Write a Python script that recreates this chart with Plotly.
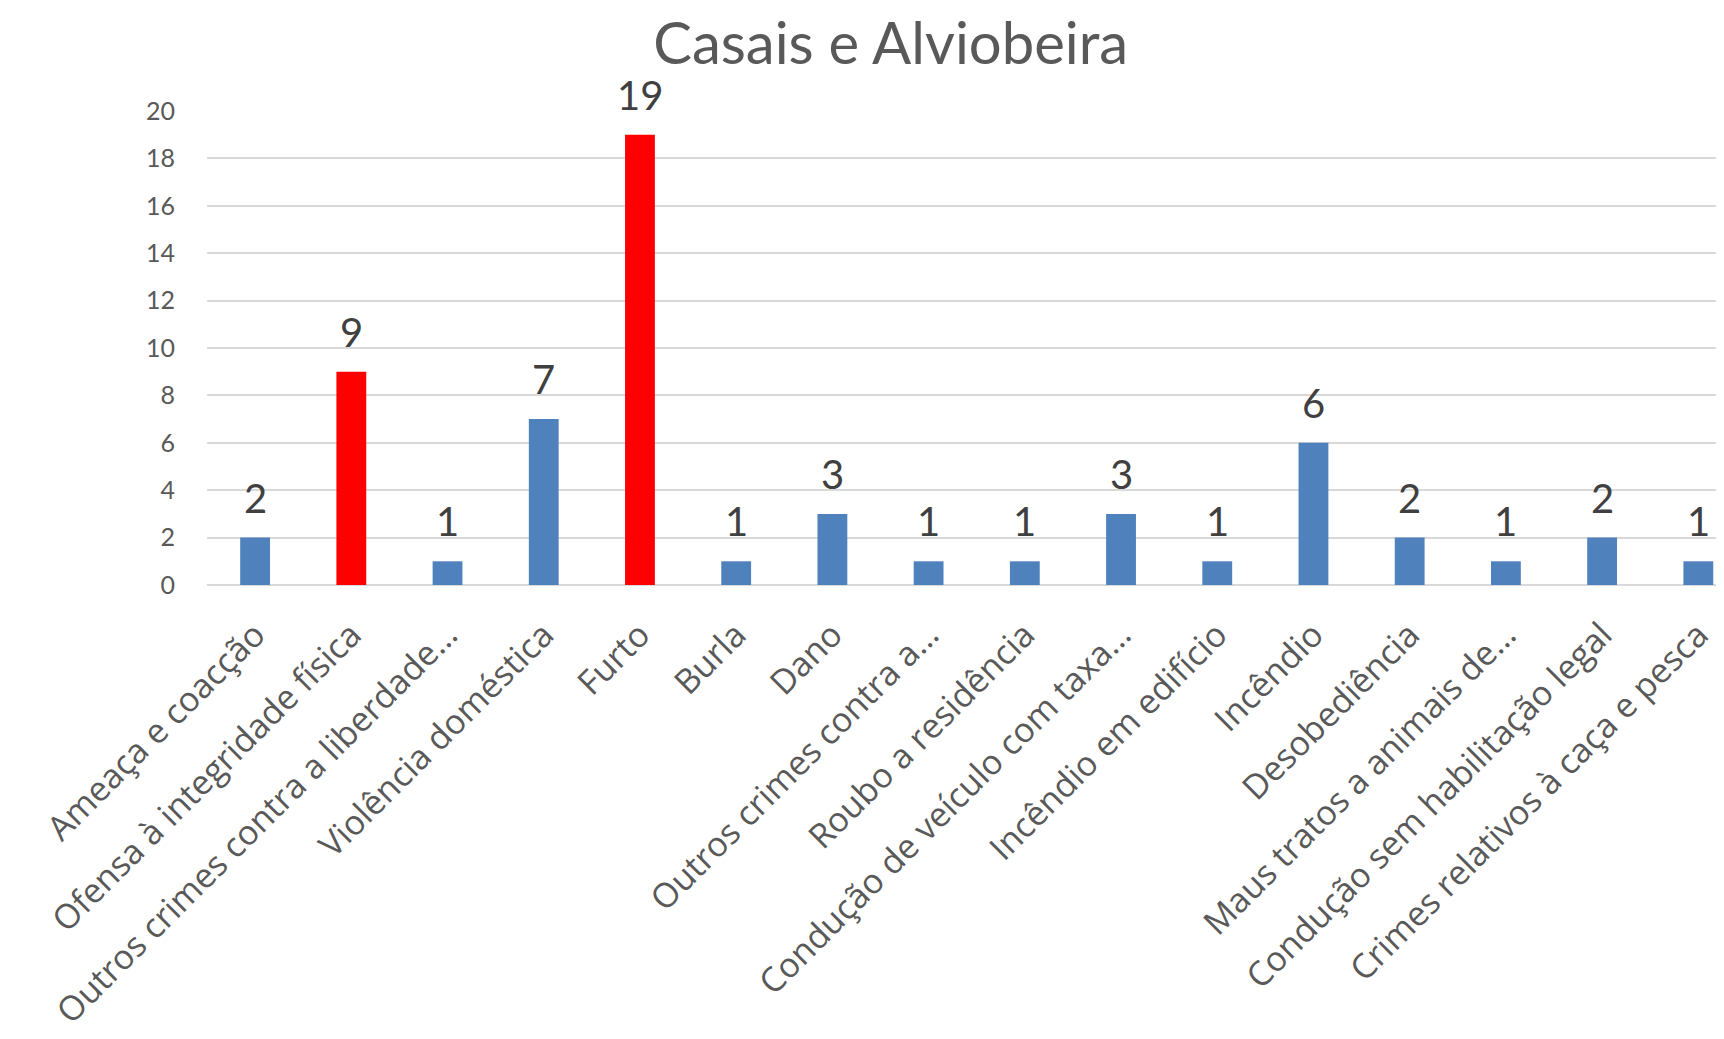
import plotly.graph_objects as go

categories = [
    "Ameaça e coacção",
    "Ofensa à integridade física",
    "Outros crimes contra a liberdade…",
    "Violência doméstica",
    "Furto",
    "Burla",
    "Dano",
    "Outros crimes contra a…",
    "Roubo a residência",
    "Condução de veículo com taxa…",
    "Incêndio em edifício",
    "Incêndio",
    "Desobediência",
    "Maus tratos a animais de…",
    "Condução sem habilitação legal",
    "Crimes relativos à caça e pesca",
]
values = [2, 9, 1, 7, 19, 1, 3, 1, 1, 3, 1, 6, 2, 1, 2, 1]
highlight = ["Ofensa à integridade física", "Furto"]

bar_colors = ["#ff0000" if c in highlight else "#4f81bd" for c in categories]
xpos = list(range(len(categories)))

FONT = "Lato"
LABEL_FONT = "Open Sans"

fig = go.Figure()
fig.add_trace(
    go.Bar(
        x=xpos,
        y=values,
        marker_color=bar_colors,
        marker_line_width=0,
        width=0.31,
    )
)

# data labels above the bars
for x, v in zip(xpos, values):
    fig.add_annotation(
        x=x, y=v, text=str(v), showarrow=False,
        yanchor="bottom", yshift=14,
        font=dict(family=FONT, size=40, color="#404040"),
    )

fig.update_layout(
    width=1724,
    height=1039,
    paper_bgcolor="white",
    plot_bgcolor="white",
    showlegend=False,
    margin=dict(l=199, r=0, t=103, b=462),
    title=dict(
        text="Casais e Alviobeira",
        x=0.512,
        xanchor="center",
        y=0.966,
        yanchor="middle",
        font=dict(family=FONT, size=58, color="#595959"),
        automargin=False,
    ),
    font=dict(family=FONT),
)

fig.update_xaxes(
    tickmode="array",
    tickvals=xpos,
    ticktext=categories,
    tickangle=-45,
    range=[-0.5, 15.35],
    tickfont=dict(family=LABEL_FONT, size=34, color="#595959"),
    showgrid=False,
    showline=False,
    zeroline=False,
    ticks="",
    ticklabelstandoff=22,
    automargin=False,
)

fig.update_yaxes(
    range=[0, 20],
    dtick=2,
    tickfont=dict(family=FONT, size=25, color="#595959"),
    gridcolor="#d9d9d9",
    gridwidth=2,
    zeroline=True,
    zerolinecolor="#d9d9d9",
    zerolinewidth=2,
    showline=False,
    ticks="",
    ticklabelstandoff=31,
    automargin=False,
)

fig.write_html("out.html")
